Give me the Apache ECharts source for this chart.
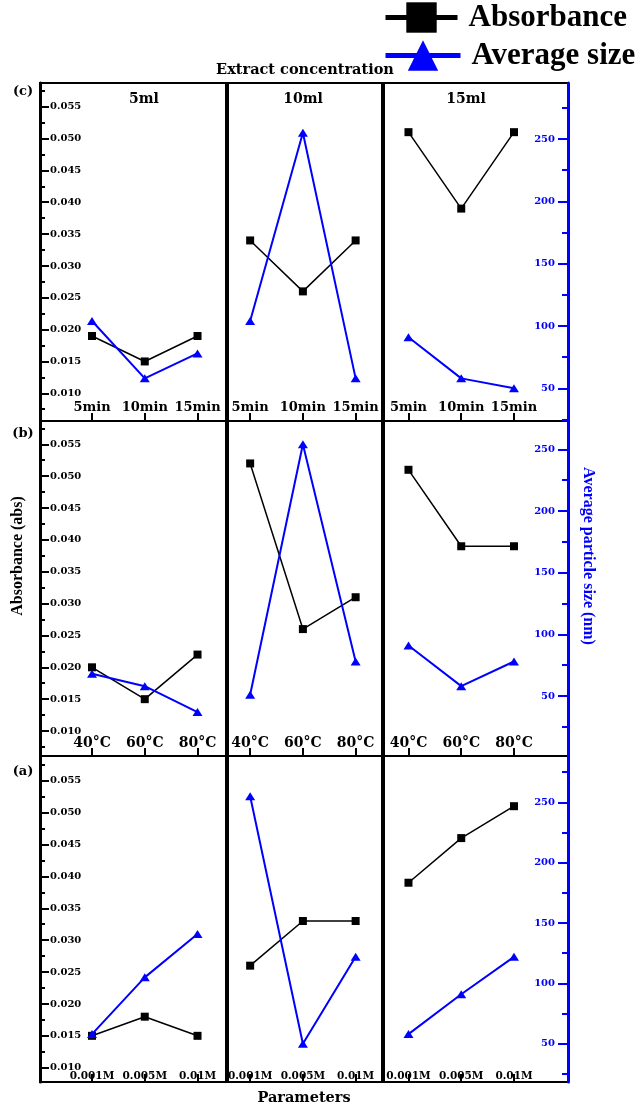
<!DOCTYPE html>
<html>
<head>
<meta charset="utf-8">
<script src="https://cdn.jsdelivr.net/npm/echarts@6/dist/echarts.min.js"></script>
<style>
  html, body { margin: 0; padding: 0; background: #fff; }
  #chart { width: 638px; height: 1107px; }
</style>
</head>
<body>
<div id="chart"></div>
<script>
// Extract volumes (columns) and the parameter varied in each row, top to bottom
const volumes = ['5ml', '10ml', '15ml'];
const rowTags = ['(c)', '(b)', '(a)'];
const timeLabels = ['5min', '10min', '15min'];
const tempLabels = ['40°C', '60°C', '80°C'];
const molarLabels = ['0.001M', '0.005M', '0.01M'];

// Absorbance (abs): one array per volume (5ml, 10ml, 15ml)
const absTime  = [[0.019, 0.015, 0.019], [0.034, 0.026, 0.034], [0.051, 0.039, 0.051]];
const absTemp  = [[0.020, 0.015, 0.022], [0.052, 0.026, 0.031], [0.051, 0.039, 0.039]];
const absMolar = [[0.015, 0.018, 0.015], [0.026, 0.033, 0.033], [0.039, 0.046, 0.051]];

// Average particle size (nm): one array per volume
const sizeTime  = [[104, 58, 78], [104, 255, 58], [91, 58, 50]];
const sizeTemp  = [[68, 58, 37], [51, 254, 78], [91, 58, 78]];
const sizeMolar = [[58, 105, 141], [255, 50, 122], [58, 91, 122]];

// Tick labels
const absTicks = [0.010, 0.015, 0.020, 0.025, 0.030, 0.035, 0.040, 0.045, 0.050, 0.055];
const sizeTicks = [50, 100, 150, 200, 250];

// ---- layout ----
const colEdges = [[40, 226], [228, 382], [384, 568]];
const rowEdges = [[83, 421], [421, 756], [756, 1082]];
const xRanges = [[-0.986, 2.54], [-0.42, 2.5], [-0.464, 3.024]];
const absRanges = [[0.00565, 0.05872], [0.00608, 0.05866], [0.00776, 0.05887]];
const sizeRanges = [[23.8, 294.9], [1.4, 272.9], [18.3, 288.4]];
const rowLabels = [timeLabels, tempLabels, molarLabels];
const rowAbs = [absTime, absTemp, absMolar];
const rowSize = [sizeTime, sizeTemp, sizeMolar];
const catFont = [{ size: 13, margin: 7 }, { size: 14, margin: 6 }, { size: 10.5, margin: 0 }];

const SERIF_W = '"DejaVu Serif", serif';
const SERIF_T = '"Liberation Serif", "Times New Roman", serif';
const BLUE = '#0000ff';

const absMinor = absTicks.map(v => +(v - 0.0025).toFixed(4)).concat([+(absTicks[absTicks.length - 1] + 0.0025).toFixed(4)]);
const sizeMinor = sizeTicks.map(v => v - 25).concat([sizeTicks[sizeTicks.length - 1] + 25]);
const within = (vals, r) => vals.filter(v => v >= r[0] && v <= r[1]);

const grid = [], xAxis = [], yAxis = [], series = [];

for (let r = 0; r < 3; r++) {
  for (let c = 0; c < 3; c++) {
    const g = r * 3 + c;
    grid.push({
      left: colEdges[c][0], width: colEdges[c][1] - colEdges[c][0],
      top: rowEdges[r][0], height: rowEdges[r][1] - rowEdges[r][0],
      show: true, borderColor: '#000', borderWidth: 2, backgroundColor: 'transparent',
      containLabel: false, outerBoundsMode: 'none'
    });
    const labels = rowLabels[r];
    xAxis.push({
      gridIndex: g, type: 'value', position: 'bottom', min: xRanges[c][0], max: xRanges[c][1],
      axisLine: { show: false, onZero: false }, splitLine: { show: false },
      axisTick: { show: true, inside: true, length: 8, customValues: [0, 1, 2],
        lineStyle: { color: '#000', width: 2 } },
      axisLabel: { show: true, inside: true, customValues: [0, 1, 2], margin: catFont[r].margin,
        formatter: v => labels[Math.round(v)],
        fontFamily: SERIF_W, fontWeight: 'bold', fontSize: catFont[r].size, color: '#000' }
    });
    const showAbs = c === 0, showSize = c === 2;
    const aR = absRanges[r], sR = sizeRanges[r];
    // absorbance axis (labelled in the first column)
    yAxis.push({
      gridIndex: g, type: 'value', position: 'left', min: aR[0], max: aR[1], show: showAbs,
      splitLine: { show: false },
      axisLine: { show: true, onZero: false, lineStyle: { color: '#000', width: 3 } },
      axisTick: { show: true, inside: true, length: 9, customValues: within(absTicks, aR),
        lineStyle: { color: '#000', width: 2 } },
      axisLabel: { show: true, inside: true, margin: 10, customValues: within(absTicks, aR),
        formatter: v => v.toFixed(3),
        fontFamily: SERIF_W, fontWeight: 'bold', fontSize: 10, color: '#000' }
    });
    // particle size axis (labelled in the last column)
    yAxis.push({
      gridIndex: g, type: 'value', position: 'right', min: sR[0], max: sR[1], show: showSize,
      splitLine: { show: false },
      axisLine: { show: true, onZero: false, lineStyle: { color: BLUE, width: 3 } },
      axisTick: { show: true, inside: true, length: 10, customValues: within(sizeTicks, sR),
        lineStyle: { color: BLUE, width: 2 } },
      axisLabel: { show: true, inside: true, margin: 13, customValues: within(sizeTicks, sR),
        formatter: v => String(Math.round(v)),
        fontFamily: SERIF_W, fontWeight: 'bold', fontSize: 10, color: BLUE }
    });
    // minor ticks
    yAxis.push({
      gridIndex: g, type: 'value', position: 'left', min: aR[0], max: aR[1], show: showAbs,
      splitLine: { show: false }, axisLine: { show: false, onZero: false }, axisLabel: { show: false },
      axisTick: { show: true, inside: true, length: 5, customValues: within(absMinor, aR),
        lineStyle: { color: '#000', width: 2 } }
    });
    yAxis.push({
      gridIndex: g, type: 'value', position: 'right', min: sR[0], max: sR[1], show: showSize,
      splitLine: { show: false }, axisLine: { show: false, onZero: false }, axisLabel: { show: false },
      axisTick: { show: true, inside: true, length: 6, customValues: within(sizeMinor, sR),
        lineStyle: { color: BLUE, width: 2 } }
    });

    series.push({
      type: 'line', name: 'Absorbance', xAxisIndex: g, yAxisIndex: 4 * g,
      data: rowAbs[r][c].map((v, i) => [i, v]),
      symbol: 'rect', symbolSize: 8,
      itemStyle: { color: '#000' }, lineStyle: { color: '#000', width: 1.5 },
      z: 3
    });
    series.push({
      type: 'line', name: 'Average size', xAxisIndex: g, yAxisIndex: 4 * g + 1,
      data: rowSize[r][c].map((v, i) => [i, v]),
      symbol: 'triangle', symbolSize: [10, 8],
      itemStyle: { color: BLUE }, lineStyle: { color: BLUE, width: 2 },
      z: 4
    });
  }
}

const legendText = { fontFamily: SERIF_T, fontWeight: 'bold', fontSize: 31, color: '#000', padding: [0, 0, 0, 6] };
const legend = [
  { data: ['Absorbance'], left: 383, top: 2, itemWidth: 72, itemHeight: 38, selectedMode: false,
    lineStyle: { width: 5 }, textStyle: legendText, padding: 0 },
  { data: ['Average size'], left: 383, top: 40, itemWidth: 75, itemHeight: 38, selectedMode: false,
    lineStyle: { width: 5 }, textStyle: legendText, padding: 0 }
];

function label(text, x, y, font, fill, rotation) {
  return {
    type: 'text', x: x, y: y, rotation: rotation || 0, z: 10,
    style: { text: text, font: font, fill: fill || '#000',
      align: 'center', verticalAlign: 'middle', textAlign: 'center', textVerticalAlign: 'middle' }
  };
}

const graphic = [
  label('Extract concentration', 305, 70, 'bold 14.5px ' + SERIF_W),
  label(volumes[0], 144, 99, 'bold 14px ' + SERIF_W),
  label(volumes[1], 303, 99, 'bold 14px ' + SERIF_W),
  label(volumes[2], 466, 99, 'bold 14px ' + SERIF_W),
  label(rowTags[0], 23, 92, 'bold 13px ' + SERIF_W),
  label(rowTags[1], 23, 434, 'bold 13px ' + SERIF_W),
  label(rowTags[2], 23, 772, 'bold 13px ' + SERIF_W),
  label('Parameters', 304, 1098, 'bold 14.5px ' + SERIF_W),
  label('Absorbance (abs)', 18, 556, 'bold 16px ' + SERIF_T, '#000', Math.PI / 2),
  label('Average particle size (nm)', 588, 556, 'bold 16px ' + SERIF_T, BLUE, -Math.PI / 2)
];

const chart = echarts.init(document.getElementById('chart'), null, { renderer: 'canvas' });
chart.setOption({
  animation: false,
  backgroundColor: '#fff',
  grid: grid, xAxis: xAxis, yAxis: yAxis, series: series,
  legend: legend, graphic: graphic
});
</script>
</body>
</html>
